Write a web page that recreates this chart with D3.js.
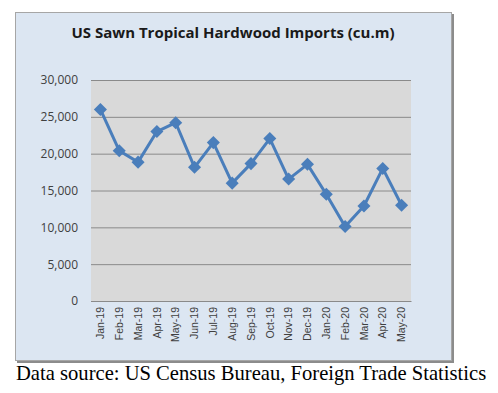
<!DOCTYPE html>
<html><head><meta charset="utf-8">
<script src="https://cdn.jsdelivr.net/npm/d3@7"></script>
<style>html,body{margin:0;padding:0;background:#fff;}</style>
</head><body>
<svg id="c" width="498" height="393"></svg>
<script>
const categories = ["Jan-19","Feb-19","Mar-19","Apr-19","May-19","Jun-19","Jul-19","Aug-19","Sep-19","Oct-19","Nov-19","Dec-19","Jan-20","Feb-20","Mar-20","Apr-20","May-20"];
const imports = [26000,20400,18850,23000,24200,18150,21500,16000,18650,22050,16550,18550,14500,10100,12900,18000,13000];
const yTicks = [0,5000,10000,15000,20000,25000,30000];
const titleText = "US Sawn Tropical Hardwood Imports (cu.m)";
const sourceText = "Data source: US Census Bureau, Foreign Trade Statistics";

(function(){
const svg = d3.select("#c");
svg.append("rect").attr("x",17).attr("y",14).attr("width",437).attr("height",349).attr("fill","#8c8c8c");
svg.append("rect").attr("x",15.5).attr("y",12.5).attr("width",436).attr("height",348)
  .attr("fill","#dce6f2").attr("stroke","#a6a6a6").attr("stroke-width",1);

const pL=91, pR=411, pT=80, pB=301;
const x = d3.scaleBand().domain(categories).range([pL,pR]);
const y = d3.scaleLinear().domain([0,30000]).range([pB,pT]);

svg.append("rect").attr("x",pL).attr("y",pT).attr("width",pR-pL).attr("height",pB-pT).attr("fill","#d9d9d9");

const yAxis = svg.append("g").attr("transform",`translate(${pL},0)`)
  .call(d3.axisLeft(y).tickValues(yTicks).tickSize(-(pR-pL)).tickFormat(d3.format(",")).tickPadding(13));
yAxis.select(".domain").remove();
yAxis.selectAll(".tick line").attr("stroke","#8a8a8a").attr("stroke-width",1);
yAxis.selectAll("text").attr("font-family","'Open Sans', sans-serif").attr("font-size","12px").attr("fill","#404040");

const xAxis = svg.append("g").attr("transform",`translate(0,${pB})`)
  .call(d3.axisBottom(x).tickSize(0).tickPadding(6));
xAxis.select(".domain").attr("stroke","#8a8a8a");
xAxis.selectAll("text").attr("font-family","'Liberation Sans', Arial, sans-serif").attr("font-size","10.5px").attr("fill","#404040")
  .attr("transform","rotate(-90)").attr("text-anchor","end").attr("dx","-6").attr("dy","0.35em").attr("y",0);

const line = d3.line().x((d,i)=>x(categories[i])+x.bandwidth()/2).y(d=>y(d));
svg.append("path").datum(imports).attr("d",line).attr("fill","none").attr("stroke","#4a7ebb").attr("stroke-width",3).attr("stroke-linejoin","round");

const sym = d3.symbol().type(d3.symbolSquare).size(85);
svg.selectAll(".m").data(imports).join("path").attr("class","m")
  .attr("d",sym).attr("fill","#4a7ebb")
  .attr("transform",(d,i)=>`translate(${x(categories[i])+x.bandwidth()/2},${y(d)}) rotate(45)`);

svg.append("text").attr("x",233).attr("y",37.5).attr("text-anchor","middle")
  .attr("font-family","'Open Sans', sans-serif").attr("font-weight","bold").attr("font-size","15px").attr("fill","#1a1a1a")
  .text(titleText);

svg.append("text").attr("x",16).attr("y",380)
  .attr("font-family","'Liberation Serif', 'Times New Roman', serif").attr("font-size","20.6px").attr("fill","#000")
  .text(sourceText);
})();
</script>
</body></html>
